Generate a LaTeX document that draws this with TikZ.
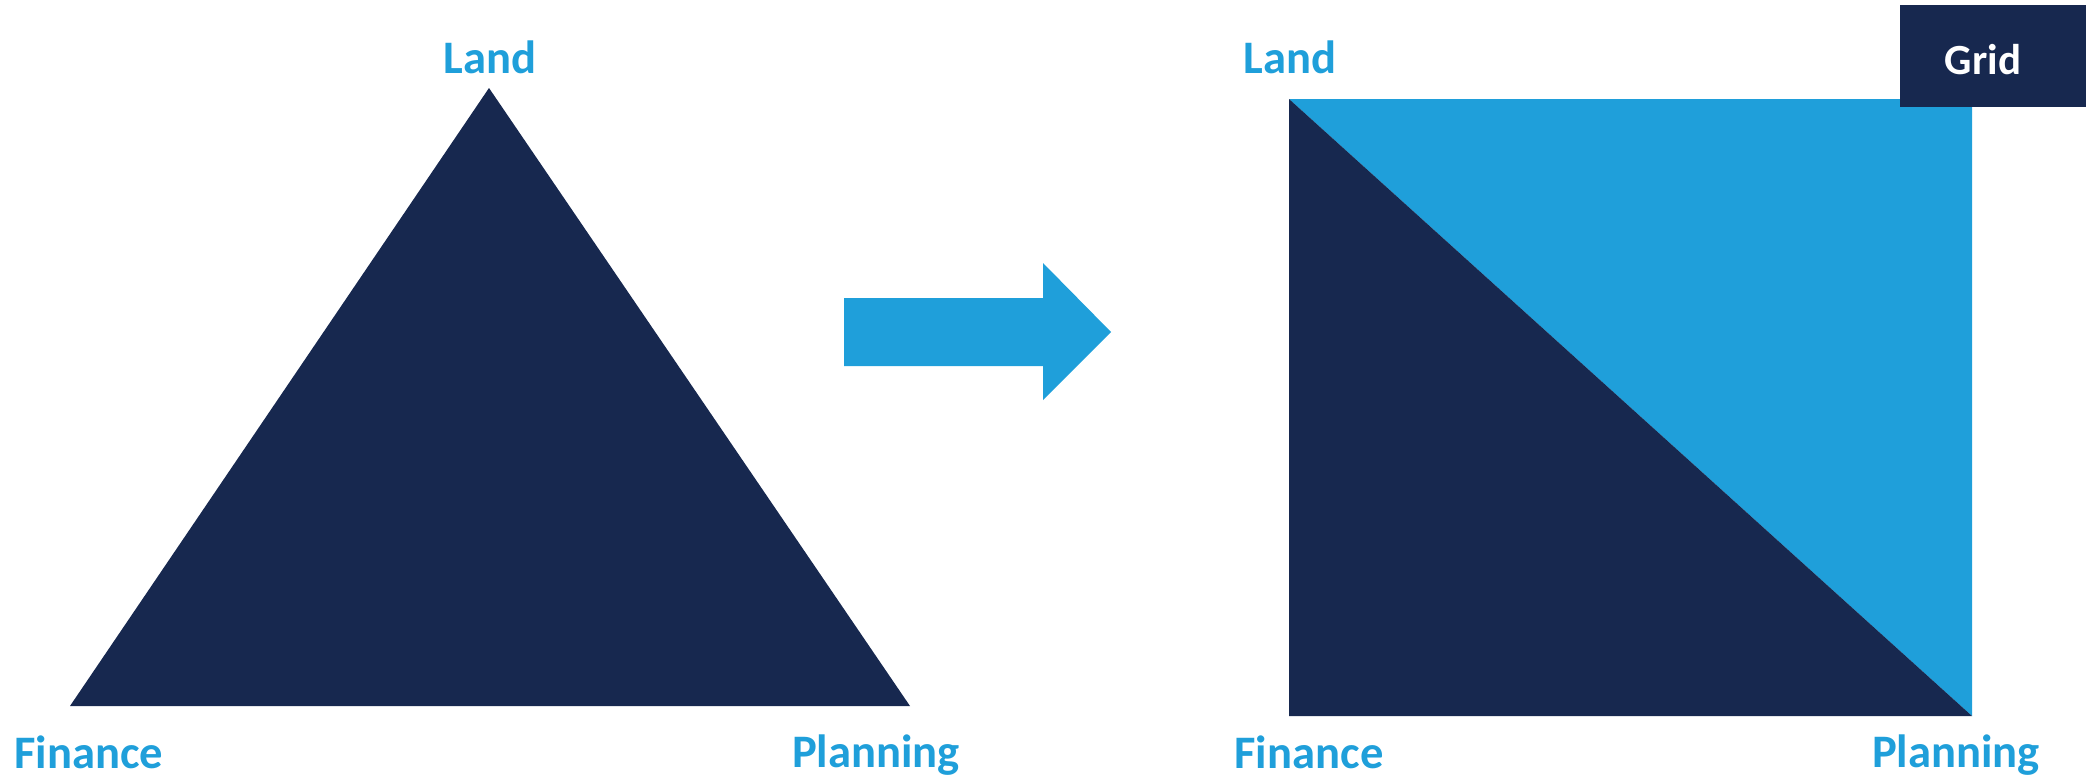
\documentclass[tikz,border=0pt]{standalone}
\usepackage{fontspec}
\setmainfont{Carlito}
\definecolor{navy}{HTML}{17284F}
\definecolor{skyblue}{HTML}{1F9FDA}
\begin{document}
\begin{tikzpicture}[x=1pt,y=-1pt,
  lbl/.style={anchor=base,inner sep=0pt,text=skyblue,font=\fontsize{46.6}{50}\selectfont\bfseries},
  glbl/.style={anchor=base,inner sep=0pt,text=white,font=\fontsize{43}{46}\selectfont\bfseries}]
\useasboundingbox (0,0) rectangle (2086,777);
% left triangle
\coordinate (LA) at (489,88);
\coordinate (LF) at (70,706);
\coordinate (LP) at (910,706);
\fill[navy] (LA) -- (LF) -- (LP) -- cycle;
\node[lbl] (land1) at (490,73) {Land};
\node[lbl] (fin1) at (89,768) {Finance};
\node[lbl] (plan1) at (876,767) {Planning};
% arrow
\fill[skyblue] (844,298) -- (1043,298) -- (1043,263) -- (1111,332) -- (1043,400) -- (1043,366) -- (844,366) -- cycle;
% right square
\coordinate (SA) at (1289,99);
\coordinate (SB) at (1972,99);
\coordinate (SF) at (1289,716);
\coordinate (SP) at (1972,716);
\fill[skyblue] (SA) -- (SB) -- (SP) -- cycle;
\fill[navy] (SA) -- (SF) -- (SP) -- cycle;
\node[lbl] (land2) at (1290,73) {Land};
\node[lbl] (fin2) at (1309,768) {Finance};
\node[lbl] (plan2) at (1956,767) {Planning};
% grid box
\fill[navy] (1900,5) rectangle (2086,107);
\node[glbl] (grid) at (1983,74) {Grid};
\end{tikzpicture}
\end{document}
